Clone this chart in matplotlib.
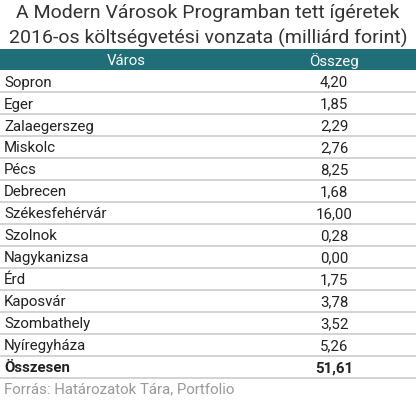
import matplotlib
matplotlib.use("Agg")
import matplotlib.pyplot as plt
from matplotlib.patches import Rectangle

title = "A Modern Városok Programban tett ígéretek\n2016-os költségvetési vonzata (milliárd forint)"
col_headers = ["Város", "Összeg"]
cities = ["Sopron", "Eger", "Zalaegerszeg", "Miskolc", "Pécs", "Debrecen",
          "Székesfehérvár", "Szolnok", "Nagykanizsa", "Érd", "Kaposvár",
          "Szombathely", "Nyíregyháza"]
values = [4.20, 1.85, 2.29, 2.76, 8.25, 1.68, 16.00, 0.28, 0.00, 1.75, 3.78, 3.52, 5.26]
total_label = "Összesen"
total_value = 51.61
source = "Forrás: Határozatok Tára, Portfolio"

def fmt(v):
    return f"{v:.2f}".replace(".", ",")

W, H = 416, 402
fig = plt.figure(figsize=(W / 100, H / 100), dpi=100)
ax = fig.add_axes([0, 0, 1, 1])
ax.set_xlim(0, W)
ax.set_ylim(H, 0)
ax.axis("off")

font = "Roboto"
ax.text(W / 2, 13, title.split("\n")[0], ha="center", va="center",
        fontsize=14, color="#333333", family=font)
ax.text(W / 2, 38, title.split("\n")[1], ha="center", va="center",
        fontsize=14, color="#333333", family=font)

head_top, head_bot = 50, 71
ax.add_patch(Rectangle((0, head_top), W, head_bot - head_top, color="#1f6e78", lw=0))
c1, c2 = 126, 334
ax.text(c1, (head_top + head_bot) / 2 + 0.5, col_headers[0], ha="center", va="center",
        fontsize=10.8, color="white", family=font)
ax.text(c2, (head_top + head_bot) / 2 + 0.5, col_headers[1], ha="center", va="center",
        fontsize=10.8, color="white", family=font)

row_h = 22
rows = [(c, fmt(v), False) for c, v in zip(cities, values)] + [(total_label, fmt(total_value), True)]
for i, (name, val, bold) in enumerate(rows):
    top = head_bot + i * row_h
    mid = top + row_h / 2 + 0.5
    w = "bold" if bold else "normal"
    ax.text(4, mid, name, ha="left", va="center", fontsize=10.8, color="#222222",
            family=font, fontweight=w)
    ax.text(c2, mid, val, ha="center", va="center", fontsize=10.8, color="#222222",
            family=font, fontweight=w)
    ax.plot([0, W], [top + row_h, top + row_h], color="#cccccc", lw=1.2)

ax.text(4, 389, source, ha="left", va="center", fontsize=10.8, color="#999999", family=font)

fig.savefig("out.png", dpi=100)
